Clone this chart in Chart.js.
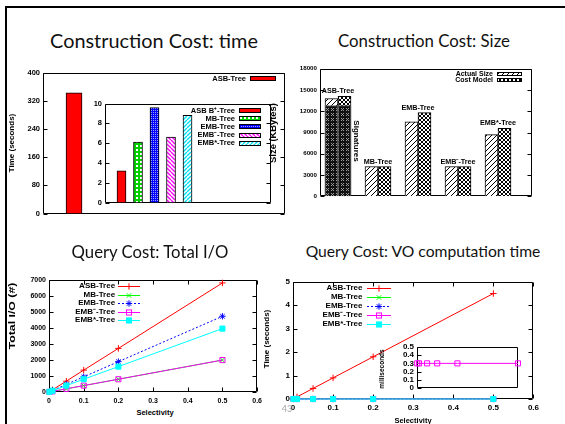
<!DOCTYPE html>
<html>
<head>
<meta charset="utf-8">
<title>Construction and query cost</title>
<script src="https://cdn.jsdelivr.net/npm/chart.js@4.4.1/dist/chart.umd.min.js"></script>
<style>
html,body{margin:0;padding:0;background:#fff}
#slide{position:relative;width:565px;height:424px;overflow:hidden;background:#fff}
.rule{position:absolute;background:#000}
.ttl{position:absolute;white-space:nowrap;line-height:1;font-family:Lato,"Open Sans",sans-serif;color:#111;transform:translate(-50%,-50%)}
.lbl{position:absolute;white-space:nowrap;line-height:1;font-family:"Liberation Sans",Arial,sans-serif;font-weight:bold;color:#000}
canvas{position:absolute}
</style>
</head>
<body>
<div id="slide">
  <div class="rule" style="left:5px;top:6px;width:560px;height:2px"></div>
  <div class="rule" style="left:5px;top:6px;width:2px;height:418px"></div>
</div>
<script>
const FONT = '"Liberation Sans", Arial, sans-serif';

// ---- construction cost: time (seconds)
const asbLabel = ['ASB-Tree'];
const asbTime = [342];
const timeTicks = [0, 80, 160, 240, 320, 400];

const variantLabels = ['ASB B\u207A-Tree', 'MB-Tree', 'EMB-Tree', 'EMB\u207B-Tree', 'EMB*-Tree'];
const variantTime = [3.2, 6.1, 9.6, 6.6, 8.8];
const variantTimeTicks = [0, 2, 4, 6, 8, 10];

// ---- construction cost: size (KBytes)
const sizeLabels = ['ASB-Tree', 'MB-Tree', 'EMB-Tree', 'EMB\u207B-Tree', 'EMB*-Tree'];
const actualSize = [13800, 4200, 10500, 4200, 8700];
const modelSize = [14100, 4200, 11800, 4200, 9600];
const asbSignatures = [12800, 12800];
const sizeTicks = [0, 3000, 6000, 9000, 12000, 15000, 18000];

// ---- query cost vs. selectivity
const seriesLabels = ['ASB-Tree', 'MB-Tree', 'EMB-Tree', 'EMB\u207B-Tree', 'EMB*-Tree'];
const selectivity = [0.001, 0.01, 0.05, 0.1, 0.2, 0.5];
const selectivityTicks = [0, 0.1, 0.2, 0.3, 0.4, 0.5, 0.6];

const ioASB = [14, 137, 680, 1370, 2730, 6830];
const ioMB = [4, 40, 200, 400, 800, 2000];
const ioEMB = [10, 95, 475, 950, 1900, 4740];
const ioEMBminus = [4, 40, 200, 400, 800, 2000];
const ioEMBstar = [8, 80, 400, 800, 1590, 3970];
const ioTicks = [0, 1000, 2000, 3000, 4000, 5000, 6000, 7000];

const voASB = [0.009, 0.09, 0.45, 0.9, 1.8, 4.5];
const voMB = [0, 0, 0, 0, 0, 0];
const voEMB = [0, 0, 0, 0, 0, 0];
const voEMBminus = [0, 0, 0, 0, 0, 0];
const voEMBstar = [0, 0, 0, 0, 0, 0];
const voTicks = [0, 1, 2, 3, 4, 5];

const voEMBminusMs = [0.3, 0.3, 0.3, 0.3, 0.3, 0.3];
const msTicks = [0, 0.1, 0.2, 0.3, 0.4, 0.5];

const slide = document.getElementById('slide');

// ---------- fill patterns ----------
function pattern(w, h, paint) {
  const c = document.createElement('canvas');
  c.width = w; c.height = h;
  const g = c.getContext('2d');
  paint(g, w, h);
  return g.createPattern(c, 'repeat');
}
function diag(color, dir, bg, lw, s) {
  return pattern(s, s, g => {
    g.fillStyle = bg; g.fillRect(0, 0, s, s);
    g.strokeStyle = color; g.lineWidth = lw; g.beginPath();
    for (let k = -1; k <= 1; k++) {
      if (dir > 0) { g.moveTo(k * s, s); g.lineTo(k * s + s, 0); }
      else { g.moveTo(k * s, 0); g.lineTo(k * s + s, s); }
    }
    g.stroke();
  });
}
const fillMB = pattern(4, 4, g => { g.fillStyle = '#00d000'; g.fillRect(0, 0, 4, 4); g.fillStyle = '#fff'; g.fillRect(1, 1, 2, 2); });
const fillEMB = pattern(2, 2, g => { g.fillStyle = '#0000ff'; g.fillRect(0, 0, 2, 2); g.fillStyle = '#a0a0ff'; g.fillRect(0, 0, 1, 1); });
const fillEMBminus = diag('#ff00ff', -1, '#fff', 1.4, 4);
const fillEMBstar = diag('#00e0f0', 1, '#fff', 1.4, 4);
const fillActual = diag('#000', 1, '#fff', 1, 5);
const fillModel = pattern(4, 4, g => {
  g.fillStyle = '#fff'; g.fillRect(0, 0, 4, 4);
  g.strokeStyle = '#000'; g.lineWidth = 1; g.beginPath();
  g.moveTo(0, 0); g.lineTo(4, 4); g.moveTo(4, 0); g.lineTo(0, 4); g.stroke();
});
const fillSig = pattern(5, 5, g => {
  g.fillStyle = '#111'; g.fillRect(0, 0, 5, 5);
  g.fillStyle = '#9a9a9a';
  [[1, 1], [3, 1], [2, 2], [1, 3], [3, 3]].forEach(p => g.fillRect(p[0], p[1], 1, 1));
});

// ---------- markers ----------
function drawMarker(ctx, style, x, y, r, color, fill) {
  ctx.save();
  ctx.strokeStyle = color; ctx.lineWidth = 1; ctx.beginPath();
  if (style === 'cross' || style === 'star') {
    ctx.moveTo(x - r, y); ctx.lineTo(x + r, y); ctx.moveTo(x, y - r); ctx.lineTo(x, y + r);
  }
  if (style === 'crossRot' || style === 'star') {
    const d = r * Math.SQRT1_2;
    ctx.moveTo(x - d, y - d); ctx.lineTo(x + d, y + d); ctx.moveTo(x + d, y - d); ctx.lineTo(x - d, y + d);
  }
  ctx.stroke();
  if (style === 'rect') {
    const s = r * Math.SQRT1_2;
    if (fill && fill !== 'rgba(0,0,0,0)') { ctx.fillStyle = fill; ctx.fillRect(x - s, y - s, 2 * s, 2 * s); }
    ctx.strokeRect(x - s, y - s, 2 * s, 2 * s);
  }
  ctx.restore();
}

// ---------- plugins: plot border with inward ticks, key box ----------
const gpFrame = {
  id: 'gpFrame',
  beforeDatasetsDraw(chart, args, o) {
    const { ctx, chartArea: a } = chart;
    ctx.save();
    if (o.fill) { ctx.fillStyle = '#fff'; ctx.fillRect(a.left, a.top, a.right - a.left, a.bottom - a.top); }
    const L = Math.round(a.left) + 0.5, R = Math.round(a.right) - 0.5;
    const T = Math.round(a.top) + 0.5, B = Math.round(a.bottom) - 0.5;
    const t = o.tick || 4;
    ctx.strokeStyle = '#000'; ctx.lineWidth = 1; ctx.beginPath();
    ctx.rect(L, T, R - L, B - T);
    const ys = chart.scales.y, xs = chart.scales.x;
    if (o.yTicks !== false) ys.ticks.forEach(tk => {
      const p = Math.round(ys.getPixelForValue(tk.value)) + 0.5;
      ctx.moveTo(L, p); ctx.lineTo(L + t, p);
      if (o.mirror !== false) { ctx.moveTo(R, p); ctx.lineTo(R - t, p); }
    });
    if (o.xTicks) xs.ticks.forEach(tk => {
      const p = Math.round(xs.getPixelForValue(tk.value)) + 0.5;
      ctx.moveTo(p, B); ctx.lineTo(p, B - t);
      ctx.moveTo(p, T); ctx.lineTo(p, T + t);
    });
    ctx.stroke();
    ctx.restore();
  }
};

const gpKey = {
  id: 'gpKey',
  afterDatasetsDraw(chart, args, o) {
    if (!o || !o.show) return;
    const { ctx, chartArea: a } = chart;
    ctx.save();
    ctx.font = 'bold ' + o.size + 'px ' + FONT;
    ctx.textAlign = 'right'; ctx.textBaseline = 'middle';
    const tx = a.right - o.right;
    let y = a.top + o.top;
    chart.data.datasets.forEach(ds => {
      if (ds.inKey === false) return;
      ctx.fillStyle = '#000';
      ctx.fillText(ds.label, tx, y);
      const x0 = Math.round(tx + o.gap), x1 = Math.round(x0 + o.width);
      const yy = Math.round(y) + 0.5;
      if (o.kind === 'bar') {
        const h = o.h;
        ctx.fillStyle = ds.backgroundColor;
        ctx.fillRect(x0, Math.round(y - h / 2), x1 - x0, h);
        ctx.strokeStyle = '#000'; ctx.lineWidth = 1;
        ctx.strokeRect(x0 + 0.5, Math.round(y - h / 2) + 0.5, x1 - x0 - 1, h - 1);
      } else {
        ctx.strokeStyle = ds.borderColor; ctx.lineWidth = 1;
        ctx.setLineDash(ds.borderDash || []);
        ctx.beginPath(); ctx.moveTo(x0, yy); ctx.lineTo(x1, yy); ctx.stroke();
        ctx.setLineDash([]);
        drawMarker(ctx, ds.pointStyle, (x0 + x1) / 2, yy, ds.pointRadius, ds.borderColor, ds.pointBackgroundColor);
      }
      y += o.spacing;
    });
    ctx.restore();
  }
};

function groupLabels(names, a, b, size, gap) {
  return {
    id: 'groupLabels',
    afterDatasetsDraw(chart) {
      const { ctx } = chart; const xs = chart.scales.x, ys = chart.scales.y;
      ctx.save();
      ctx.font = 'bold ' + size + 'px ' + FONT;
      ctx.fillStyle = '#000'; ctx.textAlign = 'center'; ctx.textBaseline = 'alphabetic';
      names.forEach((n, i) => {
        const top = Math.max(a[i], b[i]);
        ctx.fillText(n, xs.getPixelForValue(i), ys.getPixelForValue(top) - gap);
      });
      ctx.restore();
    }
  };
}

// ---------- layout helpers ----------
function place(frame, m) {
  const c = document.createElement('canvas');
  const w = frame.r - frame.l + m.l + m.r, h = frame.b - frame.t + m.t + m.b;
  c.width = w; c.height = h;
  c.style.left = (frame.l - m.l) + 'px'; c.style.top = (frame.t - m.t) + 'px';
  c.style.width = w + 'px'; c.style.height = h + 'px';
  slide.appendChild(c);
  return c;
}
function axis(kind, m, min, max, ticks, size, pad) {
  return {
    type: 'linear', min, max, offset: false,
    grid: { display: false, drawTicks: false }, border: { display: false },
    afterBuildTicks: s => { s.ticks = ticks.map(v => ({ value: v })); },
    ticks: {
      display: ticks.length > 0, autoSkip: false, maxRotation: 0, padding: pad, color: '#000',
      font: { size, weight: 'bold', family: FONT }, callback: v => String(v)
    },
    afterFit: s => { if (kind === 'x') s.height = m.b; else s.width = m.l; }
  };
}
function opts(m, xs, ys, plugins) {
  return {
    responsive: false, animation: false, devicePixelRatio: 1,
    layout: { padding: { left: 0, top: m.t, right: m.r, bottom: 0 } },
    scales: { x: xs, y: ys },
    plugins: Object.assign({ legend: { display: false }, tooltip: { enabled: false } }, plugins)
  };
}
function text(str, cx, cy, size, rot, cls, stretch) {
  const d = document.createElement('div');
  d.className = cls || 'lbl'; d.textContent = str;
  d.style.fontSize = size + 'px';
  d.style.left = cx + 'px'; d.style.top = cy + 'px';
  d.style.transform = 'translate(-50%,-50%) rotate(' + (rot || 0) + 'deg) scaleX(' + (stretch || 1) + ')';
  slide.appendChild(d);
  return d;
}
function heading(str, cx, cy, width) {
  const d = text(str, cx, cy, 20, 0, 'ttl');
  const w = d.getBoundingClientRect().width;
  d.style.fontSize = (20 * width / w) + 'px';
}

// ---------- construction time ----------
const m1 = { l: 40, r: 4, t: 6, b: 4 };
new Chart(place({ l: 43, t: 71, r: 285, b: 217 }, m1), {
  type: 'bar',
  data: {
    datasets: [{
      label: asbLabel[0], data: asbTime.map((v, i) => ({ x: i + 1, y: v })),
      backgroundColor: '#ff0000', borderColor: '#000', borderWidth: 1, barThickness: 16, grouped: false
    }]
  },
  options: opts(m1, axis('x', m1, 0, 7.8, [], 7, 0), axis('y', m1, 0, 400, timeTicks, 7.5, 3), {
    gpFrame: {}, gpKey: { show: true, kind: 'bar', size: 7.5, right: 39, top: 6, gap: 4, width: 26, h: 5, spacing: 8 }
  }),
  plugins: [gpFrame, gpKey]
});

const variantFills = ['#ff0000', fillMB, fillEMB, fillEMBminus, fillEMBstar];
const m1b = { l: 22, r: 4, t: 6, b: 3 };
new Chart(place({ l: 105, t: 102, r: 271, b: 207 }, m1b), {
  type: 'bar',
  data: {
    datasets: variantLabels.map((name, i) => ({
      label: name, data: [{ x: i + 1, y: variantTime[i] }],
      backgroundColor: variantFills[i], borderColor: '#000', borderWidth: 1, barThickness: 9, grouped: false
    }))
  },
  options: opts(m1b, axis('x', m1b, 0, 10.06, [], 7, 0), axis('y', m1b, 0, 10, variantTimeTicks, 7.5, 3), {
    gpFrame: { fill: true }, gpKey: { show: true, kind: 'bar', size: 7.5, right: 36, top: 7, gap: 4, width: 22, h: 5, spacing: 8.2 }
  }),
  plugins: [gpFrame, gpKey]
});

// ---------- construction size ----------
const m2 = { l: 30, r: 4, t: 6, b: 4 };
new Chart(place({ l: 320, t: 68, r: 532, b: 199 }, m2), {
  type: 'bar',
  data: {
    datasets: [
      {
        label: 'Signatures', inKey: false, order: 0,
        data: asbSignatures.map((v, i) => ({ x: i === 0 ? -0.1625 : 0.1625, y: v })),
        backgroundColor: fillSig, borderColor: '#666', borderWidth: 1, barThickness: 13, grouped: false
      },
      {
        label: 'Actual Size', order: 1,
        data: actualSize.map((v, i) => ({ x: i - 0.1625, y: v })),
        backgroundColor: fillActual, borderColor: '#000', borderWidth: 1, barThickness: 13, grouped: false
      },
      {
        label: 'Cost Model', order: 1,
        data: modelSize.map((v, i) => ({ x: i + 0.1625, y: v })),
        backgroundColor: fillModel, borderColor: '#000', borderWidth: 1, barThickness: 13, grouped: false
      }
    ]
  },
  options: opts(m2, axis('x', m2, -0.45, 4.85, [], 7, 0), axis('y', m2, 0, 18000, sizeTicks, 6.2, 3), {
    gpFrame: {}, gpKey: { show: true, kind: 'bar', size: 7, right: 39, top: 5, gap: 4, width: 25, h: 4, spacing: 6.5 }
  }),
  plugins: [gpFrame, gpKey, groupLabels(sizeLabels, actualSize, modelSize, 7.2, 3)]
});

// ---------- query cost: line series ----------
const lineStyles = [
  { color: '#ff0000', point: 'cross', dash: [] },
  { color: '#00ff00', point: 'crossRot', dash: [] },
  { color: '#0000ff', point: 'star', dash: [2, 2] },
  { color: '#ff00ff', point: 'rect', dash: [], open: true },
  { color: '#00ffff', point: 'rect', dash: [] }
];
function lineSet(label, values, i) {
  const st = lineStyles[i];
  return {
    label, data: selectivity.map((x, k) => ({ x, y: values[k] })),
    borderColor: st.color, backgroundColor: st.color, borderWidth: 1, borderDash: st.dash,
    pointStyle: st.point, pointRadius: st.point === 'rect' ? 3.6 : 3.2, pointBorderWidth: 1,
    pointBorderColor: st.color, pointBackgroundColor: st.open ? 'rgba(0,0,0,0)' : st.color,
    fill: false, tension: 0, clip: false, order: lineStyles.length - i
  };
}

const m3 = { l: 40, r: 8, t: 6, b: 14 };
new Chart(place({ l: 49, t: 279, r: 259, b: 392 }, m3), {
  type: 'line',
  data: { datasets: [ioASB, ioMB, ioEMB, ioEMBminus, ioEMBstar].map((v, i) => lineSet(seriesLabels[i], v, i)) },
  options: opts(m3, axis('x', m3, 0, 0.6, selectivityTicks, 7, 5), axis('y', m3, 0, 7000, ioTicks, 7, 3), {
    gpFrame: { xTicks: true }, gpKey: { show: true, kind: 'line', size: 8, right: 142, top: 6, gap: 3, width: 22, spacing: 8.5 }
  }),
  plugins: [gpFrame, gpKey]
});

const m4 = { l: 20, r: 8, t: 6, b: 14 };
new Chart(place({ l: 293, t: 280, r: 535, b: 399 }, m4), {
  type: 'line',
  data: { datasets: [voASB, voMB, voEMB, voEMBminus, voEMBstar].map((v, i) => lineSet(seriesLabels[i], v, i)) },
  options: opts(m4, axis('x', m4, 0, 0.6, selectivityTicks, 8, 4), axis('y', m4, 0, 5, voTicks, 8, 3), {
    gpFrame: { xTicks: true }, gpKey: { show: true, kind: 'line', size: 8, right: 171, top: 6, gap: 5, width: 24, spacing: 9 }
  }),
  plugins: [gpFrame, gpKey]
});

const m4b = { l: 26, r: 8, t: 6, b: 3 };
new Chart(place({ l: 417, t: 345, r: 518, b: 393 }, m4b), {
  type: 'line',
  data: { datasets: [lineSet(seriesLabels[3], voEMBminusMs, 3)] },
  options: opts(m4b, axis('x', m4b, 0, 0.5, [], 8, 0), axis('y', m4b, 0, 0.5, msTicks, 8, 3), {
    gpFrame: { fill: true, mirror: false }
  }),
  plugins: [gpFrame]
});

// ---------- headings and axis titles ----------
heading('Construction Cost: time', 154, 41, 208);
heading('Construction Cost: Size', 424, 41, 172);
heading('Query Cost: Total I/O', 150, 252, 157);
heading('Query Cost: VO computation time', 423, 252, 235);

text('Time (seconds)', 12, 143, 8, -90);
text('Size (KBytes)', 273, 133, 8.5, -90, null, 1.1);
text('Signatures', 356, 141, 8, 90);
text('Total I/O (#)', 12, 316, 8.5, -90, null, 1.45);
text('Time (seconds)', 267, 339, 8, -90);
text('milliseconds', 382, 369, 6.5, -90);
text('Selectivity', 155, 413, 7.5, 0);
text('Selectivity', 413, 421, 7.5, 0);
const pg = text('43', 287, 408, 9, 0, 'ttl');
pg.style.color = '#a6a6a6';
</script>
</body>
</html>
